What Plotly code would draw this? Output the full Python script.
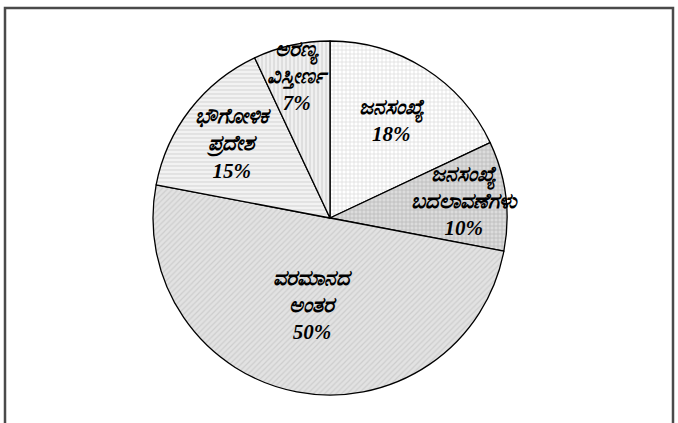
import plotly.graph_objects as go

labels = ["ಜನಸಂಖ್ಯೆ", "ಜನಸಂಖ್ಯೆ<br>ಬದಲಾವಣೆಗಳು", "ವರಮಾನದ<br>ಅಂತರ", "ಭೌಗೋಳಿಕ<br>ಪ್ರದೇಶ", "ಅರಣ್ಯ<br>ವಿಸ್ತೀರ್ಣ"]
values = [18, 10, 50, 15, 7]

bg_colors = ["#ffffff", "#dcdcdc", "#e2e2e2", "#f2f2f2", "#f0f0f0"]
fg_colors = ["#b0b0b0", "#8c8c8c", "#b8b8b8", "#bdbdbd", "#b5b5b5"]
shapes_pat = ["+", "+", "/", "-", "|"]

W, H = 678, 423
cx, cy, r = 330, 218, 177

fig = go.Figure(go.Pie(
    labels=labels,
    values=values,
    sort=False,
    direction="clockwise",
    rotation=0,
    textposition="inside",
    insidetextorientation="horizontal",
    texttemplate="<b><i>%{label}<br>%{value}%</i></b>",
    textfont=dict(family="Liberation Serif, Noto Sans, serif", size=21, color="#000"),
    marker=dict(
        colors=bg_colors,
        line=dict(color="#000", width=1.3),
        pattern=dict(shape=shapes_pat, fgcolor=fg_colors, bgcolor=bg_colors,
                     size=4, solidity=0.3, fillmode="overlay"),
    ),
    domain=dict(x=[(cx - r) / W, (cx + r) / W], y=[1 - (cy + r) / H, 1 - (cy - r) / H]),
    showlegend=False,
    hoverinfo="skip",
))

fig.update_layout(
    width=W, height=H,
    margin=dict(l=0, r=0, t=0, b=0),
    paper_bgcolor="#ffffff",
    plot_bgcolor="#ffffff",
    uniformtext=dict(minsize=21, mode="show"),
    shapes=[dict(type="rect", xref="paper", yref="paper",
                 x0=5 / W, x1=673 / W, y0=-0.05, y1=1 - 8 / H,
                 line=dict(color="#4a4a4a", width=2.5))],
)

fig.write_html("out.html", config={"displayModeBar": False},
               post_script="document.body.style.margin='0';")
